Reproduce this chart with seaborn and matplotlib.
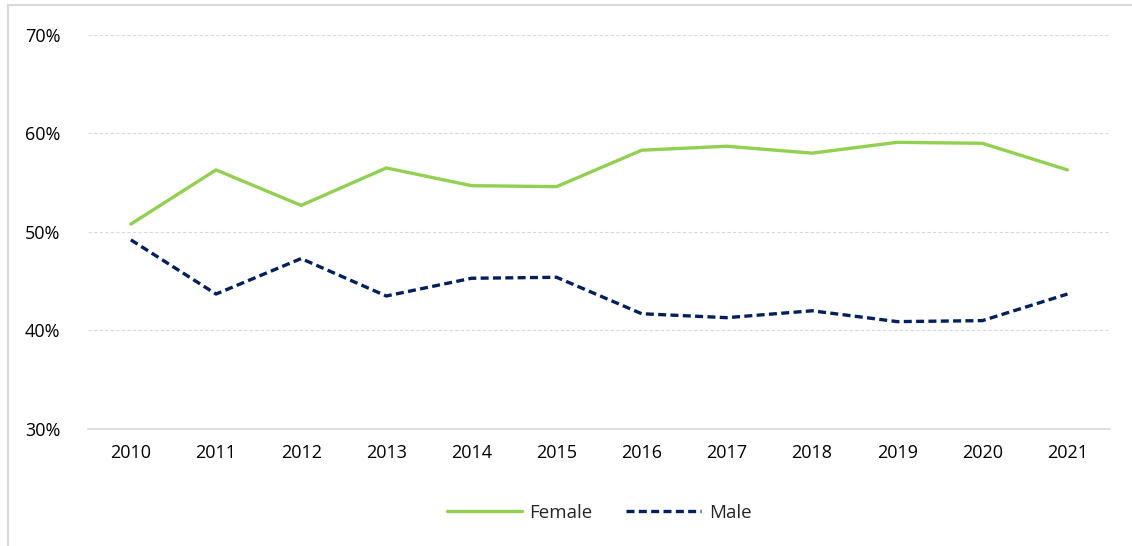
import numpy as np
import pandas as pd
import matplotlib.pyplot as plt
import seaborn as sns
from matplotlib.patches import Rectangle
from matplotlib.ticker import PercentFormatter

years = [2010, 2011, 2012, 2013, 2014, 2015, 2016, 2017, 2018, 2019, 2020, 2021]
female = [50.8, 56.3, 52.7, 56.5, 54.7, 54.6, 58.3, 58.7, 58.0, 59.1, 59.0, 56.3]
male = [49.2, 43.7, 47.3, 43.5, 45.3, 45.4, 41.7, 41.3, 42.0, 40.9, 41.0, 43.7]

df = pd.DataFrame({
    'year': [str(y) for y in years] * 2,
    'share': female + male,
    'sex': ['Female'] * len(years) + ['Male'] * len(years),
})

sns.set_style('white')
plt.rcParams['font.family'] = ['Open Sans', 'DejaVu Sans']

fig = plt.figure(figsize=(11.32, 5.46), dpi=100)
ax = fig.add_axes([0.078, 0.2143, 0.9026, 0.7217])

sns.lineplot(data=df, x='year', y='share', hue='sex', style='sex',
             palette={'Female': '#92D050', 'Male': '#002060'},
             dashes={'Female': '', 'Male': (2.4, 1.3)},
             linewidth=2.4, sort=False, ax=ax)

ax.set_ylim(30, 70)
ax.set_yticks([30, 40, 50, 60, 70])
ax.yaxis.set_major_formatter(PercentFormatter(decimals=0))
ax.set_xlim(-0.5, len(years) - 0.5)
ax.grid(axis='y', color='#D9D9D9', linestyle=(0, (3, 2)), linewidth=0.8)
for s in ['top', 'right', 'left']:
    ax.spines[s].set_visible(False)
ax.spines['bottom'].set_color('#D9D9D9')
ax.spines['bottom'].set_linewidth(1.2)
ax.tick_params(axis='both', length=0, labelsize=13, colors='black')
ax.tick_params(axis='x', pad=11)
ax.tick_params(axis='y', pad=20)
ax.set_xlabel('')
ax.set_ylabel('')

handles, labels = ax.get_legend_handles_labels()
ax.legend(handles, labels, loc='center', bbox_to_anchor=(0.5, -0.213),
          ncol=2, frameon=False, fontsize=13.5, handlelength=4.0,
          columnspacing=1.8, handletextpad=0.4)

fig.patches.append(Rectangle((8 / 1132, -0.5), 1.5, 1.5 - 5 / 546,
                             transform=fig.transFigure, fill=False,
                             edgecolor='#D9D9D9', linewidth=1.5))

fig.savefig('out.png', dpi=100)
